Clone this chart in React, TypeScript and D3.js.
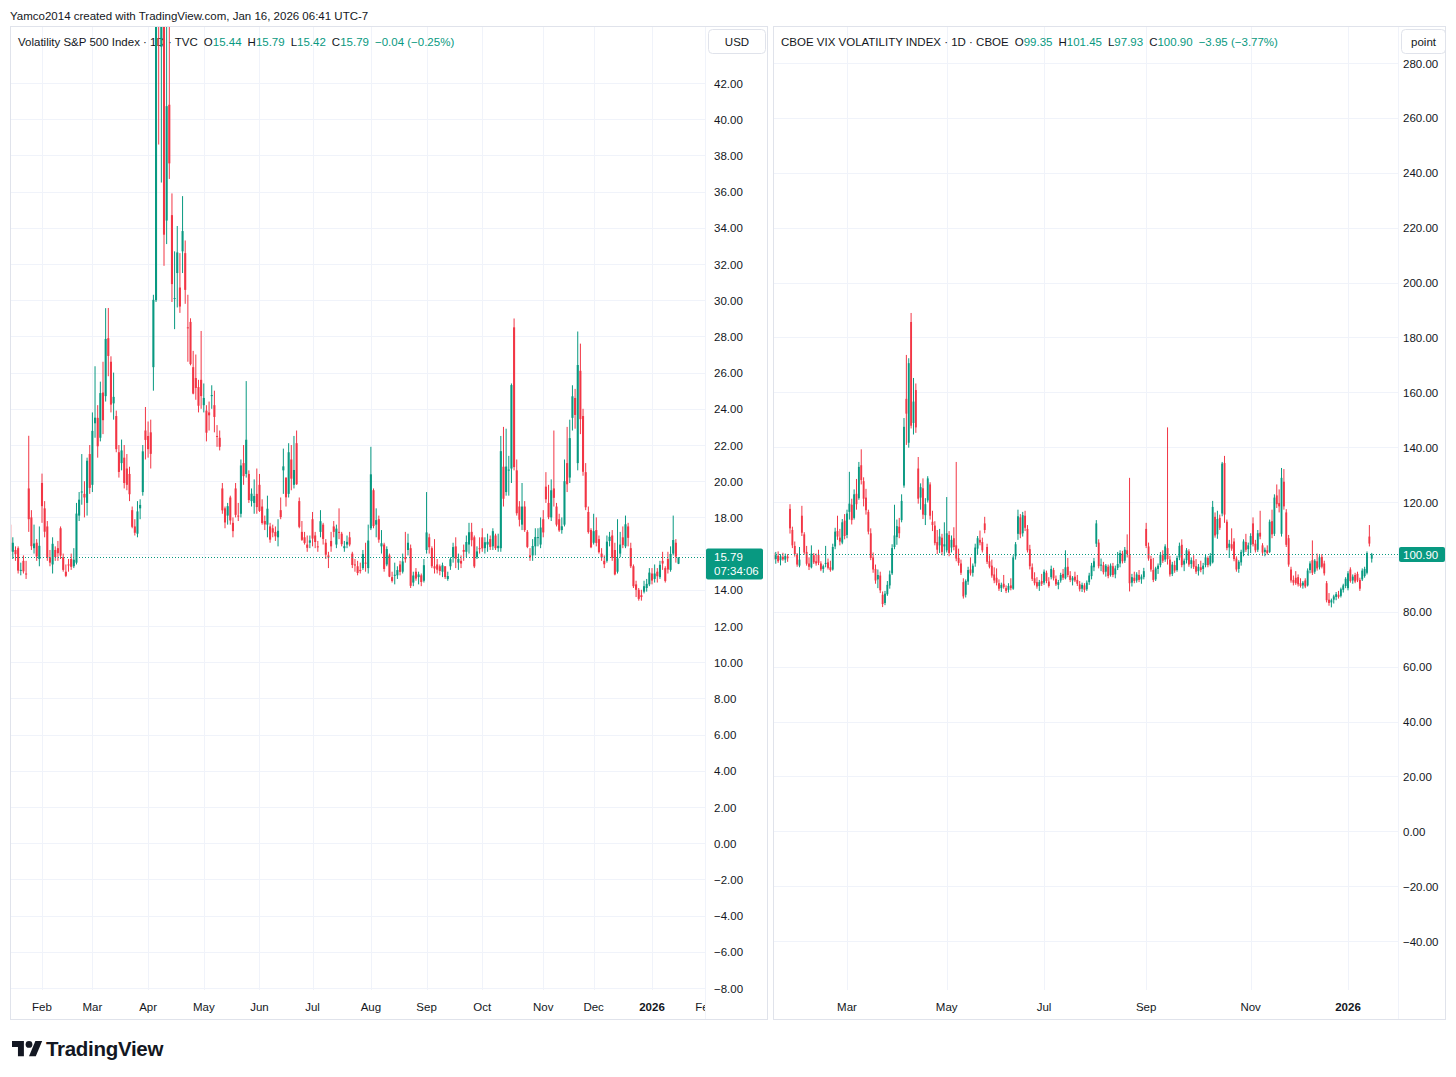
import React from "react";
import * as d3 from "d3";

const W = 1456;
const H = 1077;
const UP = "#089981";
const DOWN = "#f23645";
const TEXT = "#131722";
const GRID = "#f0f3fa";
const BORDER = "#e0e3eb";
const FONT = "'Liberation Sans', Arial, sans-serif";
const TY = 1.5; // text vertical nudge

// ---------- VIX (TVC) daily candles [open, high, low, close], Jan 15 2025 .. Jan 16 2026 ----------
const vixCandles: number[][] = [
  // Jan 2025
  [17.6, 17.9, 15.95, 16.12], [16.1, 16.9, 15.7, 16.6], [16.2, 16.4, 15.6, 15.97], [16.3, 16.4, 14.9, 15.06],
  [15.1, 15.5, 14.8, 15.1], [15.6, 15.9, 14.9, 15.02], [14.9, 15.6, 14.6, 14.85], [19.6, 22.51, 17.2, 17.9],
  [18.0, 18.4, 16.2, 16.41], [16.3, 17.6, 16.0, 16.56], [16.6, 16.8, 15.6, 15.84], [15.7, 17.5, 15.3, 16.43],
  // Feb
  [19.9, 20.42, 17.7, 18.62], [18.5, 18.9, 16.9, 17.21], [17.5, 17.8, 15.6, 15.77], [15.8, 16.2, 15.3, 15.5],
  [15.4, 16.9, 14.9, 16.54], [16.2, 16.4, 15.6, 15.81], [16.3, 16.7, 15.6, 16.02], [17.4, 17.5, 15.7, 15.89],
  [15.8, 16.0, 15.0, 15.1], [15.0, 15.4, 14.7, 14.77], [15.4, 15.7, 15.0, 15.35], [15.7, 16.0, 15.1, 15.27],
  [15.3, 16.3, 15.2, 15.66], [15.5, 18.8, 15.4, 18.21], [18.1, 19.4, 17.8, 18.98], [19.4, 21.5, 18.7, 19.43],
  [19.3, 20.0, 18.0, 19.1], [18.8, 21.3, 18.1, 21.13], [21.5, 22.0, 19.3, 19.63],
  // Mar
  [19.8, 23.8, 19.4, 22.78], [23.2, 26.35, 22.4, 23.51], [23.5, 24.2, 21.3, 21.93], [22.4, 25.5, 22.2, 24.87],
  [24.9, 26.6, 22.6, 23.37], [24.7, 29.56, 24.4, 27.86], [27.9, 29.57, 25.8, 26.92], [26.6, 26.9, 23.8, 24.23],
  [24.3, 26.0, 23.4, 24.66], [23.6, 23.9, 21.6, 21.77], [21.6, 22.0, 20.2, 20.51], [21.0, 22.3, 20.6, 21.7],
  [21.3, 22.0, 19.6, 19.9], [20.7, 21.5, 19.5, 19.8], [20.4, 20.8, 18.9, 19.28], [18.4, 18.6, 17.4, 17.48],
  [17.5, 17.9, 17.0, 17.15], [17.1, 18.9, 16.9, 18.33], [18.5, 19.0, 17.9, 18.69], [19.4, 22.0, 19.2, 21.65],
  [22.8, 24.1, 21.2, 22.28],
  // Apr
  [22.5, 23.3, 21.3, 21.77], [22.7, 23.4, 20.7, 21.51], [26.3, 30.3, 25.0, 30.02], [30.0, 45.6, 29.9, 45.31],
  [60.13, 60.13, 38.6, 46.98], [44.0, 57.5, 36.5, 52.33], [50.0, 57.52, 31.9, 33.62], [34.4, 54.9, 33.1, 40.72],
  [40.8, 46.1, 36.7, 37.56], [34.7, 35.9, 29.9, 30.89], [30.1, 32.7, 28.4, 30.12], [31.5, 34.1, 29.6, 32.64],
  [30.7, 32.6, 29.3, 29.65], [32.7, 35.75, 31.5, 33.82], [32.6, 33.3, 29.8, 30.57], [28.5, 30.3, 26.6, 28.45],
  [28.8, 29.0, 26.4, 26.47], [26.3, 27.2, 24.8, 24.84], [25.7, 27.0, 24.5, 25.15], [25.2, 25.6, 23.8, 24.17],
  [25.6, 28.3, 24.0, 24.7],
  // May
  [24.2, 25.4, 23.8, 24.6], [23.9, 24.2, 22.2, 22.68], [23.8, 24.4, 22.8, 23.64], [24.7, 25.3, 24.0, 24.76],
  [24.2, 25.0, 22.7, 23.55], [22.5, 23.1, 21.9, 22.48], [22.4, 22.8, 21.7, 21.9], [19.6, 19.9, 18.2, 18.39],
  [18.5, 18.6, 17.4, 17.72], [18.1, 18.8, 17.6, 18.62], [19.1, 19.2, 17.6, 17.83], [17.7, 18.0, 16.9, 17.24],
  [19.6, 19.9, 18.0, 18.14], [18.1, 18.8, 17.8, 18.09], [18.2, 21.2, 18.0, 20.87], [21.0, 22.0, 19.8, 20.28],
  [20.4, 25.53, 20.2, 22.29], [20.4, 20.6, 18.8, 18.96], [18.9, 19.6, 18.6, 19.31], [18.8, 20.1, 18.2, 19.18],
  [19.3, 20.7, 18.2, 18.57],
  // Jun
  [19.8, 20.4, 18.3, 18.36], [18.6, 19.0, 17.6, 17.69], [17.8, 18.1, 17.3, 17.61], [17.6, 19.2, 16.9, 18.48],
  [17.5, 17.7, 16.6, 16.77], [17.4, 17.6, 16.9, 17.16], [17.2, 17.5, 16.7, 16.95], [16.9, 17.9, 16.4, 17.26],
  [18.4, 19.1, 17.9, 18.02], [20.6, 21.8, 19.3, 20.82], [20.2, 20.2, 18.6, 19.11], [19.3, 22.1, 19.1, 21.6],
  [21.2, 22.0, 19.5, 20.14], [19.8, 22.5, 19.6, 20.62], [22.1, 22.8, 19.8, 19.83], [18.9, 19.1, 17.4, 17.48],
  [17.2, 17.8, 16.7, 16.76], [16.9, 17.2, 16.5, 16.59], [16.5, 17.0, 16.1, 16.32], [16.6, 17.0, 16.3, 16.73],
  // Jul
  [17.9, 18.3, 16.4, 16.83], [17.0, 17.2, 16.3, 16.64], [16.4, 16.7, 16.1, 16.38], [17.2, 18.4, 16.9, 17.79],
  [17.6, 17.7, 16.5, 16.81], [16.6, 16.8, 15.7, 15.94], [15.9, 16.1, 15.2, 15.78], [16.7, 17.2, 16.1, 16.4],
  [17.5, 17.8, 16.9, 17.2], [16.5, 17.6, 16.3, 17.38], [17.2, 18.5, 16.8, 17.16], [17.1, 17.2, 16.4, 16.52],
  [16.3, 16.7, 16.1, 16.41], [16.5, 17.0, 16.3, 16.65], [16.9, 17.2, 16.4, 16.5], [16.0, 16.1, 15.2, 15.37],
  [15.4, 15.7, 15.0, 15.39], [15.3, 15.6, 14.8, 14.93], [15.1, 15.5, 14.9, 15.03], [15.2, 16.2, 15.1, 15.98],
  [15.5, 16.6, 15.0, 15.48], [15.2, 17.6, 14.9, 16.72],
  // Aug
  [17.4, 21.9, 17.3, 20.38], [19.5, 19.6, 17.4, 17.52], [17.6, 18.5, 16.9, 17.85], [17.9, 18.1, 16.6, 16.77],
  [16.4, 17.3, 16.0, 16.57], [16.5, 16.6, 15.0, 15.15], [15.4, 16.4, 15.3, 16.25], [15.9, 16.0, 14.7, 14.73],
  [14.7, 15.0, 14.4, 14.49], [14.8, 15.5, 14.3, 14.83], [14.8, 15.3, 14.6, 15.09], [15.4, 15.6, 14.8, 14.99],
  [15.0, 16.0, 14.9, 15.57], [15.8, 17.2, 15.5, 15.69], [16.2, 17.1, 15.9, 16.6], [16.3, 16.5, 14.1, 14.22],
  [14.4, 15.0, 14.2, 14.79], [15.0, 15.2, 14.5, 14.62], [14.7, 15.0, 14.3, 14.85], [14.8, 14.9, 14.2, 14.43],
  [14.5, 15.7, 14.4, 15.36],
  // Sep
  [16.2, 19.4, 16.0, 17.17], [16.9, 17.1, 16.0, 16.35], [16.3, 16.4, 15.2, 15.3], [15.3, 16.8, 14.9, 15.18],
  [15.4, 15.7, 14.9, 15.11], [15.3, 15.4, 14.8, 15.04], [15.0, 15.5, 14.7, 15.35], [15.3, 15.3, 14.6, 14.71],
  [14.6, 15.0, 14.5, 14.76], [15.3, 15.8, 15.1, 15.69], [15.8, 16.6, 15.5, 16.36], [16.4, 16.9, 15.2, 15.72],
  [15.5, 16.0, 15.1, 15.7], [15.6, 15.9, 15.2, 15.45], [16.2, 16.5, 15.6, 16.1], [16.1, 17.0, 15.8, 16.64],
  [16.5, 17.7, 16.0, 17.18], [17.2, 17.7, 16.4, 16.74], [16.9, 17.0, 15.2, 15.29], [15.8, 16.4, 15.7, 16.12],
  [16.3, 16.9, 16.0, 16.28],
  // Oct
  [16.9, 17.4, 16.1, 16.29], [16.3, 16.9, 16.0, 16.63], [16.5, 17.1, 16.1, 16.65], [16.8, 17.0, 16.2, 16.37],
  [16.4, 17.4, 16.2, 17.24], [17.0, 17.1, 16.2, 16.3], [16.3, 17.1, 16.1, 16.43], [16.3, 22.5, 16.1, 21.66],
  [20.8, 23.0, 18.6, 19.03], [19.4, 22.9, 19.2, 20.81], [20.6, 21.4, 19.2, 20.64], [20.7, 25.4, 19.9, 25.31],
  [28.5, 28.99, 20.6, 20.78], [20.6, 21.2, 18.1, 18.23], [18.6, 18.9, 17.5, 17.87], [17.6, 19.9, 17.3, 18.6],
  [18.6, 18.9, 17.2, 17.3], [17.2, 17.3, 16.3, 16.37], [15.9, 16.3, 15.6, 15.79], [15.9, 16.8, 15.6, 16.42],
  [16.4, 17.4, 15.9, 16.92], [16.9, 17.4, 16.4, 16.91], [16.5, 18.0, 16.3, 17.44],
  // Nov
  [17.9, 18.4, 16.9, 17.17], [19.7, 20.5, 18.8, 19.0], [18.8, 19.8, 17.9, 18.01], [18.0, 20.1, 17.8, 19.5],
  [19.6, 22.8, 18.6, 19.08], [18.6, 18.8, 17.5, 17.6], [17.9, 18.2, 17.2, 17.28], [17.3, 18.0, 17.1, 17.51],
  [17.6, 21.2, 17.5, 20.0], [21.0, 23.0, 19.4, 19.83], [20.2, 23.4, 19.9, 22.38], [23.5, 25.3, 22.8, 24.69],
  [24.6, 25.1, 22.9, 23.66], [21.0, 28.27, 20.6, 26.42], [26.1, 27.6, 22.6, 23.43], [23.6, 24.0, 20.3, 20.52],
  [20.5, 21.0, 18.4, 18.56], [18.3, 18.6, 17.1, 17.19], [17.3, 17.4, 16.3, 16.35],
  // Dec
  [16.6, 18.2, 16.5, 17.24], [17.3, 18.0, 16.4, 16.59], [16.8, 17.0, 16.0, 16.08], [16.0, 16.3, 15.6, 15.78],
  [15.6, 15.9, 15.2, 15.41], [15.6, 17.0, 15.5, 16.66], [16.7, 17.2, 16.4, 16.93], [17.0, 17.3, 15.6, 15.77],
  [16.2, 16.6, 14.8, 14.85], [15.0, 17.9, 14.9, 15.74], [16.0, 17.2, 15.8, 16.5], [16.9, 17.5, 16.3, 16.48],
  [16.4, 18.1, 16.3, 17.62], [17.5, 17.7, 16.4, 16.87], [16.3, 16.6, 15.2, 15.3], [15.3, 15.4, 14.1, 14.2],
  [14.3, 14.5, 13.6, 14.0], [14.0, 14.1, 13.4, 13.5], [13.7, 14.0, 13.4, 13.6], [13.9, 14.5, 13.8, 14.2],
  [14.1, 14.6, 13.9, 14.33], [14.3, 15.2, 14.2, 14.95],
  // Jan 2026
  [14.9, 15.2, 14.3, 14.51], [14.6, 15.4, 14.4, 14.9], [15.0, 15.2, 14.4, 14.75], [14.7, 15.6, 14.6, 15.38],
  [15.6, 16.1, 15.1, 15.45], [15.2, 15.3, 14.4, 14.49], [15.7, 16.1, 14.9, 15.12], [15.1, 16.4, 15.0, 15.98],
  [16.0, 18.1, 15.9, 16.75], [16.6, 16.8, 15.5, 15.83], [15.44, 15.79, 15.42, 15.79],
];

// ---------- CBOE VVIX daily candles [open, high, low, close], same dates ----------
const vvixCandles: number[][] = [
  // Jan 2025
  [101.5, 103.5, 98.0, 99.0], [99.2, 101.8, 97.5, 100.6], [100.4, 102.0, 97.8, 98.4], [98.8, 101.0, 96.9, 100.2],
  [100.0, 101.5, 98.6, 99.1], [99.0, 101.2, 97.8, 100.3], [100.1, 101.0, 98.2, 99.5], [117.5, 119.2, 108.5, 110.4],
  [109.8, 111.0, 103.2, 104.2], [104.0, 105.6, 100.1, 101.0], [100.8, 101.4, 96.4, 97.2], [96.8, 103.6, 96.2, 99.0],
  // Feb
  [115.0, 118.6, 107.6, 108.8], [108.2, 109.0, 100.8, 101.6], [101.8, 104.0, 96.8, 97.5], [97.6, 99.8, 95.2, 96.4],
  [96.2, 104.2, 95.8, 101.2], [100.6, 101.4, 97.4, 98.0], [98.4, 101.2, 96.8, 97.6], [100.8, 102.6, 97.0, 97.8],
  [97.6, 98.4, 94.8, 95.4], [95.6, 97.2, 94.2, 96.6], [97.4, 104.0, 96.2, 97.8], [98.0, 99.4, 95.4, 96.0],
  [96.2, 98.6, 94.6, 95.2], [95.4, 104.8, 95.0, 103.6], [103.8, 110.6, 102.8, 109.2], [109.4, 115.0, 106.2, 107.4],
  [107.0, 110.2, 104.2, 105.6], [105.2, 113.8, 104.6, 112.6], [113.2, 115.6, 106.4, 107.6],
  // Mar
  [108.0, 117.2, 106.8, 115.8], [116.4, 131.0, 113.6, 119.4], [119.0, 121.2, 111.8, 113.4], [114.2, 124.6, 113.6, 122.8],
  [123.0, 128.4, 117.2, 119.2], [121.4, 134.6, 120.8, 132.8], [133.4, 139.2, 126.4, 128.0], [127.6, 129.0, 118.4, 121.2],
  [121.6, 124.8, 115.4, 117.0], [116.4, 117.2, 108.2, 109.2], [108.6, 110.4, 98.8, 99.6], [99.8, 101.6, 94.2, 95.4],
  [95.6, 97.2, 90.2, 91.4], [91.8, 95.4, 88.6, 93.4], [93.2, 94.6, 86.8, 87.8], [86.2, 87.4, 81.7, 82.8],
  [83.2, 87.6, 82.4, 86.6], [86.4, 91.2, 85.8, 89.8], [89.6, 95.0, 88.4, 93.6], [94.0, 104.6, 93.4, 103.2],
  [103.6, 119.0, 102.8, 107.8],
  // Apr
  [107.2, 113.6, 104.4, 111.2], [111.0, 114.2, 106.8, 108.6], [113.4, 122.8, 112.6, 120.4], [126.0, 150.6, 125.2, 147.4],
  [157.6, 173.6, 140.8, 152.2], [141.6, 172.4, 139.8, 170.6], [185.6, 188.9, 146.8, 147.8], [148.8, 165.2, 144.6, 156.6],
  [160.8, 163.2, 145.2, 147.2], [132.2, 136.4, 119.4, 121.2], [121.6, 126.8, 117.2, 125.4], [125.0, 128.6, 113.8, 115.4],
  [115.2, 121.4, 111.6, 119.2], [120.6, 129.4, 119.8, 128.6], [126.4, 127.2, 113.6, 115.0], [112.8, 116.8, 109.4, 111.6],
  [111.4, 113.0, 104.2, 105.0], [105.4, 109.8, 101.0, 102.6], [104.2, 110.2, 101.4, 107.4], [107.0, 108.4, 100.6, 101.8],
  [103.8, 112.6, 100.4, 104.6],
  // May
  [102.4, 121.8, 101.6, 108.6], [108.0, 109.4, 100.2, 101.4], [103.4, 107.8, 101.6, 106.2], [106.8, 110.8, 102.4, 103.6],
  [104.2, 134.6, 98.4, 99.4], [99.6, 103.0, 96.8, 97.8], [97.6, 99.0, 93.4, 94.2], [90.8, 92.2, 84.8, 85.6],
  [86.2, 91.8, 85.2, 91.2], [91.0, 96.4, 89.8, 95.2], [95.4, 99.8, 93.2, 94.0], [94.2, 97.6, 92.8, 96.8],
  [97.6, 104.8, 96.4, 103.4], [103.0, 107.6, 100.8, 106.8], [106.2, 109.6, 104.2, 105.2], [105.4, 107.0, 101.6, 102.4],
  [112.2, 114.6, 108.6, 109.8], [103.6, 104.8, 97.4, 98.2], [98.4, 100.6, 95.8, 96.4], [96.8, 99.0, 92.4, 93.2],
  [93.6, 96.2, 90.4, 91.4],
  // Jun
  [92.4, 95.8, 89.6, 90.6], [90.4, 91.8, 87.6, 88.4], [88.6, 90.6, 87.2, 89.8], [90.2, 93.4, 88.4, 89.0],
  [88.6, 89.6, 86.8, 87.6], [88.0, 90.4, 87.0, 89.4], [89.6, 92.2, 87.8, 88.6], [88.4, 100.6, 88.0, 99.8],
  [100.2, 105.4, 99.0, 104.6], [108.4, 117.2, 106.2, 114.8], [114.4, 115.6, 106.8, 108.2], [108.6, 116.4, 107.4, 115.2],
  [115.0, 116.8, 109.4, 110.6], [110.2, 111.6, 101.6, 102.4], [102.8, 104.4, 95.4, 96.6], [96.2, 97.6, 91.2, 92.0],
  [92.2, 94.4, 89.6, 90.4], [90.8, 92.6, 88.4, 89.2], [89.4, 91.6, 87.6, 90.8], [91.2, 93.8, 89.4, 90.2],
  // Jul
  [90.6, 95.4, 89.8, 94.6], [94.2, 95.0, 90.4, 91.2], [91.0, 92.6, 88.8, 89.4], [92.6, 96.8, 91.8, 95.6],
  [95.2, 96.0, 91.4, 92.2], [92.0, 93.2, 89.4, 90.0], [89.8, 91.6, 88.2, 90.8], [91.4, 94.2, 90.6, 93.4],
  [93.8, 95.6, 91.6, 92.4], [92.2, 102.4, 91.8, 96.2], [96.4, 99.6, 92.6, 93.4], [93.2, 94.8, 90.8, 91.6],
  [91.4, 93.0, 89.6, 92.4], [92.8, 94.6, 90.8, 91.4], [91.6, 93.4, 89.4, 90.2], [90.0, 91.2, 87.4, 88.2],
  [88.4, 90.6, 87.2, 89.8], [89.6, 90.4, 87.0, 88.0], [88.2, 91.4, 87.6, 90.6], [90.8, 94.2, 89.8, 93.2],
  [93.0, 97.8, 91.8, 96.8], [96.2, 99.6, 94.8, 98.4],
  // Aug
  [104.8, 113.4, 103.6, 112.2], [105.2, 106.4, 95.8, 96.6], [96.8, 99.4, 94.8, 97.2], [97.0, 98.2, 93.6, 94.4],
  [94.6, 97.4, 92.8, 96.8], [96.4, 97.2, 92.2, 93.0], [93.4, 97.6, 92.8, 96.8], [96.6, 97.8, 92.6, 93.4],
  [93.6, 96.8, 92.2, 95.8], [96.0, 101.8, 95.2, 97.4], [97.6, 102.4, 96.2, 101.4], [101.2, 102.2, 97.6, 98.4],
  [98.6, 103.6, 97.8, 102.6], [102.4, 108.2, 99.8, 101.0], [100.8, 128.8, 87.4, 90.4], [90.6, 93.8, 89.2, 92.6],
  [92.4, 94.6, 90.4, 91.2], [91.4, 94.4, 90.6, 93.6], [93.4, 95.2, 90.8, 91.6], [91.8, 93.6, 90.2, 92.8],
  [92.6, 96.0, 91.8, 94.8],
  // Sep
  [110.2, 112.4, 103.2, 104.0], [103.8, 105.2, 98.6, 99.4], [99.2, 100.4, 94.6, 95.4], [95.2, 99.6, 90.8, 91.6],
  [91.8, 96.4, 91.2, 95.8], [95.6, 97.6, 93.8, 96.8], [97.0, 101.8, 96.2, 100.8], [100.6, 102.4, 97.8, 98.6],
  [99.0, 104.6, 98.2, 103.8], [103.2, 147.2, 97.2, 99.2], [99.0, 100.4, 92.8, 93.6], [93.8, 98.2, 93.0, 97.2],
  [97.0, 98.6, 94.2, 95.0], [95.2, 100.4, 94.6, 99.6], [99.8, 105.2, 98.8, 104.0], [104.4, 106.4, 96.2, 97.0],
  [97.2, 99.4, 94.8, 98.6], [98.8, 103.2, 97.6, 102.4], [102.0, 102.8, 96.4, 97.2], [97.4, 99.8, 95.8, 98.8],
  [98.6, 100.6, 95.6, 96.4],
  // Oct
  [96.6, 99.2, 93.8, 94.6], [94.8, 97.4, 93.2, 96.4], [96.2, 98.6, 94.4, 95.2], [95.6, 97.8, 93.6, 96.8],
  [97.0, 100.8, 96.2, 99.8], [99.6, 100.2, 96.2, 97.0], [97.2, 101.4, 96.6, 100.4], [98.0, 120.4, 97.6, 118.2],
  [114.6, 116.2, 107.0, 107.8], [108.2, 116.8, 106.6, 113.8], [114.2, 115.4, 109.8, 110.6], [115.8, 134.6, 114.8, 134.0],
  [134.2, 136.8, 112.4, 115.4], [112.8, 113.6, 102.4, 103.2], [103.4, 106.2, 99.6, 104.8], [104.6, 110.4, 102.2, 103.0],
  [105.6, 106.8, 98.4, 99.2], [99.4, 100.2, 94.6, 95.4], [95.6, 98.8, 94.2, 98.2], [98.0, 102.6, 96.8, 101.8],
  [101.6, 106.4, 100.2, 105.6], [105.4, 108.4, 101.8, 102.6], [102.8, 105.2, 100.4, 104.2],
  // Nov
  [104.4, 108.6, 101.4, 107.6], [112.2, 114.4, 103.8, 104.6], [104.8, 106.2, 101.6, 102.4], [102.6, 109.8, 101.8, 108.6],
  [108.8, 116.8, 106.4, 107.4], [104.2, 105.0, 100.4, 101.6], [101.8, 103.4, 100.2, 102.6], [102.4, 104.2, 100.8, 101.4],
  [101.8, 113.6, 101.4, 112.8], [113.0, 117.2, 106.8, 108.2], [108.4, 122.8, 107.6, 121.6], [122.4, 126.4, 117.8, 119.2],
  [119.6, 124.6, 116.2, 118.4], [108.4, 132.4, 107.4, 128.8], [127.4, 132.0, 117.2, 118.4], [116.2, 117.4, 103.6, 104.4],
  [106.8, 108.0, 96.4, 97.2], [95.4, 96.4, 90.6, 91.4], [91.6, 93.2, 89.6, 90.6],
  // Dec
  [92.4, 94.8, 89.8, 90.4], [92.6, 93.6, 89.2, 90.0], [90.4, 92.2, 88.8, 89.4], [89.6, 91.2, 88.4, 90.6],
  [91.4, 92.2, 88.6, 89.2], [89.6, 95.8, 89.2, 95.0], [95.2, 98.4, 94.0, 97.6], [98.8, 106.0, 93.4, 94.2],
  [94.6, 99.2, 93.8, 98.6], [98.4, 101.2, 95.0, 95.8], [96.2, 100.6, 95.4, 99.8], [100.0, 101.0, 95.8, 96.4],
  [97.6, 98.6, 93.2, 94.0], [90.4, 91.2, 83.4, 84.2], [84.4, 86.8, 82.2, 83.2], [83.4, 84.8, 81.6, 84.2],
  [84.4, 86.2, 83.0, 85.6], [85.4, 87.2, 84.2, 86.4], [86.2, 87.6, 84.8, 85.4], [85.8, 88.8, 85.2, 88.2],
  [88.0, 90.2, 87.0, 89.6], [89.4, 92.6, 88.6, 92.0],
  // Jan 2026
  [88.6, 94.8, 87.8, 94.0], [95.4, 96.2, 90.6, 91.2], [91.4, 93.6, 90.2, 92.8], [93.4, 94.2, 90.4, 91.0],
  [93.8, 94.6, 90.8, 91.4], [91.6, 92.4, 87.6, 88.4], [91.8, 95.8, 91.2, 95.0], [93.0, 96.4, 92.4, 95.6],
  [94.2, 102.0, 93.6, 101.4], [107.4, 111.6, 103.8, 104.85], [99.35, 101.45, 97.93, 100.9],
];

// ---------- axis labels ----------
const vixPriceTicks = [42, 40, 38, 36, 34, 32, 30, 28, 26, 24, 22, 20, 18, 16, 14, 12, 10, 8, 6, 4, 2, 0, -2, -4, -6, -8];
const vvixPriceTicks = [280, 260, 240, 220, 200, 180, 160, 140, 120, 100, 80, 60, 40, 20, 0, -20, -40];
const vixMonthLabels = ["Feb", "Mar", "Apr", "May", "Jun", "Jul", "Aug", "Sep", "Oct", "Nov", "Dec", "2026", "Feb"];
const vixMonthBars = [12, 31, 52, 73, 94, 114, 136, 157, 178, 201, 220, 242, 262];
const vvixMonthLabels = ["Mar", "May", "Jul", "Sep", "Nov", "2026"];
const vvixMonthBars = [31, 73, 114, 157, 201, 242];

const fmt = (v: number) => (v < 0 ? "\u2212" + Math.abs(v).toFixed(2) : v.toFixed(2));

type PanelProps = {
  id: string;
  paneL: number;
  paneR: number;
  panelR: number;
  top: number;
  paneB: number;
  bottom: number;
  x: d3.ScaleLinear<number, number>;
  y: d3.ScaleLinear<number, number>;
  data: number[][];
  ticks: number[];
  monthLabels: string[];
  monthBars: number[];
  title: string;
  unit: string;
  unitW: number;
  axisTextX: number;
  priceBoxW: number;
  countdown?: string;
  bodyFrac: number;
};

function Panel(p: PanelProps) {
  const last = p.data[p.data.length - 1];
  const prev = p.data[p.data.length - 2];
  const chg = last[3] - prev[3];
  const pct = (chg / prev[3]) * 100;
  const lastColor = last[3] >= last[0] ? UP : DOWN;
  const yLast = p.y(last[3]);
  const step = Math.abs(p.x(1) - p.x(0));
  const bw = step * p.bodyFrac;
  const boxH = p.countdown ? 31 : 15;
  const boxTop = p.countdown ? yLast - 9 : yLast - 7.5;
  const hidden = (v: number) => {
    const yy = p.y(v);
    return yy > boxTop - 7 && yy < boxTop + boxH + 6;
  };
  const clipId = `clip-${p.id}`;
  const axClip = `axclip-${p.id}`;
  return (
    <g>
      <defs>
        <clipPath id={clipId}>
          <rect x={p.paneL} y={p.top} width={p.paneR - p.paneL} height={p.paneB - p.top} />
        </clipPath>
        <clipPath id={axClip}>
          <rect x={p.paneL} y={p.paneB} width={p.paneR - p.paneL} height={p.bottom - p.paneB} />
        </clipPath>
      </defs>
      {/* grid */}
      <g clipPath={`url(#${clipId})`}>
        {p.ticks.map((t) => (
          <line key={"h" + t} x1={p.paneL} x2={p.paneR} y1={Math.round(p.y(t)) + 0.5} y2={Math.round(p.y(t)) + 0.5} stroke={GRID} strokeWidth={1} />
        ))}
        {p.monthBars.map((b, i) => (
          <line key={"v" + i} x1={Math.round(p.x(b)) + 0.5} x2={Math.round(p.x(b)) + 0.5} y1={p.top} y2={p.paneB} stroke={GRID} strokeWidth={1} />
        ))}
      </g>
      {/* legend */}
      <text x={p.paneL + 8} y={41 + TY} fontFamily={FONT} fontSize={11.5} dominantBaseline="middle" fill={TEXT}>
        <tspan>{p.title}</tspan>
        <tspan dx={6}>O</tspan>
        <tspan fill={lastColor}>{last[0].toFixed(2)}</tspan>
        <tspan dx={6}>H</tspan>
        <tspan fill={lastColor}>{last[1].toFixed(2)}</tspan>
        <tspan dx={6}>L</tspan>
        <tspan fill={lastColor}>{last[2].toFixed(2)}</tspan>
        <tspan dx={6}>C</tspan>
        <tspan fill={lastColor}>{last[3].toFixed(2)}</tspan>
        <tspan dx={6} fill={lastColor}>{`${fmt(chg)} (${fmt(pct)}%)`}</tspan>
      </text>
      {/* candles */}
      <g clipPath={`url(#${clipId})`}>
        {p.data.map((d, i) => {
          const [o, h, l, c] = d;
          const col = c >= o ? UP : DOWN;
          const cx = p.x(i);
          const yt = p.y(Math.max(o, c));
          const yb = p.y(Math.min(o, c));
          return (
            <g key={i}>
              <line x1={cx} x2={cx} y1={p.y(h)} y2={p.y(l)} stroke={col} strokeWidth={1} />
              <rect x={cx - bw / 2} y={yt} width={bw} height={Math.max(1, yb - yt)} fill={col} />
            </g>
          );
        })}
      </g>
      {/* last price line */}
      <line x1={p.paneL} x2={p.paneR} y1={Math.round(yLast) + 0.5} y2={Math.round(yLast) + 0.5} stroke={lastColor} strokeWidth={1} strokeDasharray="1 2" />
      {/* price scale separator */}
      <line x1={p.paneR + 0.5} x2={p.paneR + 0.5} y1={p.top} y2={p.bottom} stroke={GRID} strokeWidth={1} />
      {/* price axis labels */}
      {p.ticks.filter((t) => !hidden(t) && p.y(t) > 56 && p.y(t) < p.paneB).map((t) => (
        <text key={"t" + t} x={p.axisTextX} y={p.y(t) + TY} fontFamily={FONT} fontSize={11.5} fill={TEXT} dominantBaseline="middle">
          {fmt(t)}
        </text>
      ))}
      {/* unit box */}
      <rect x={p.paneR + 3.5} y={29.5} width={p.unitW} height={24} rx={4} fill="#ffffff" stroke={BORDER} strokeWidth={1} />
      <text x={p.paneR + 3.5 + p.unitW / 2} y={41.5 + TY} fontFamily={FONT} fontSize={11.5} fill={TEXT} textAnchor="middle" dominantBaseline="middle">
        {p.unit}
      </text>
      {/* last price box */}
      <rect x={p.paneR + 1} y={boxTop} width={p.priceBoxW} height={boxH} rx={2} fill={lastColor} />
      <text x={p.axisTextX} y={boxTop + 8 + TY} fontFamily={FONT} fontSize={11.5} fill="#ffffff" dominantBaseline="middle">
        {last[3].toFixed(2)}
      </text>
      {p.countdown && (
        <text x={p.axisTextX} y={boxTop + 22.5 + TY} fontFamily={FONT} fontSize={11.5} fill="#ffffff" dominantBaseline="middle">
          {p.countdown}
        </text>
      )}
      {/* time axis */}
      <g clipPath={`url(#${axClip})`}>
        {p.monthLabels.map((m, i) => (
          <text key={"m" + i} x={p.x(p.monthBars[i])} y={1006 + TY} fontFamily={FONT} fontSize={11.5} fill={TEXT} textAnchor="middle" dominantBaseline="middle" fontWeight={m === "2026" ? 700 : 400}>
            {m}
          </text>
        ))}
      </g>
      {/* panel border */}
      <rect x={p.paneL + 0.5} y={p.top + 0.5} width={p.panelR - p.paneL - 1} height={p.bottom - p.top - 1} fill="none" stroke={BORDER} strokeWidth={1} />
    </g>
  );
}

export default function App() {
  const xL = d3.scaleLinear().domain([12, 242]).range([42, 652]);
  const yL = d3.scaleLinear().domain([-8, 42]).range([988, 83]);
  const xR = d3.scaleLinear().domain([31, 242]).range([847, 1348]);
  const yR = d3.scaleLinear().domain([-40, 280]).range([941, 63]);

  return (
    <svg width={W} height={H} viewBox={`0 0 ${W} ${H}`} style={{ position: "absolute", left: 0, top: 0, background: "#ffffff" }}>
      <rect x={0} y={0} width={W} height={H} fill="#ffffff" />
      <text x={10} y={15 + TY} fontFamily={FONT} fontSize={11.5} fill={TEXT} dominantBaseline="middle">
        Yamco2014 created with TradingView.com, Jan 16, 2026 06:41 UTC-7
      </text>
      <Panel
        id="vix"
        paneL={10}
        paneR={705}
        panelR={768}
        top={26}
        paneB={990}
        bottom={1020}
        x={xL}
        y={yL}
        data={vixCandles}
        ticks={vixPriceTicks}
        monthLabels={vixMonthLabels}
        monthBars={vixMonthBars}
        title="Volatility S&P 500 Index · 1D · TVC"
        unit="USD"
        unitW={57}
        axisTextX={714}
        priceBoxW={57}
        countdown="07:34:06"
        bodyFrac={0.78}
      />
      <Panel
        id="vvix"
        paneL={773}
        paneR={1398}
        panelR={1446}
        top={26}
        paneB={990}
        bottom={1020}
        x={xR}
        y={yR}
        data={vvixCandles}
        ticks={vvixPriceTicks}
        monthLabels={vvixMonthLabels}
        monthBars={vvixMonthBars}
        title="CBOE VIX VOLATILITY INDEX · 1D · CBOE"
        unit="point"
        unitW={44}
        axisTextX={1403}
        priceBoxW={46}
        bodyFrac={0.78}
      />
      {/* TradingView logo */}
      <g transform="translate(12,1037.6) scale(0.85)" fill={TEXT}>
        <path d="M14 22H7V11H0V4h14v18z" />
        <path d="M28 22h-8l7.5-18h8L28 22z" />
        <circle cx={20} cy={8} r={4} />
      </g>
      <text x={46} y={1049 + TY} fontFamily={FONT} fontSize={20.5} fontWeight={700} fill={TEXT} dominantBaseline="middle" letterSpacing={-0.3}>
        TradingView
      </text>
    </svg>
  );
}
